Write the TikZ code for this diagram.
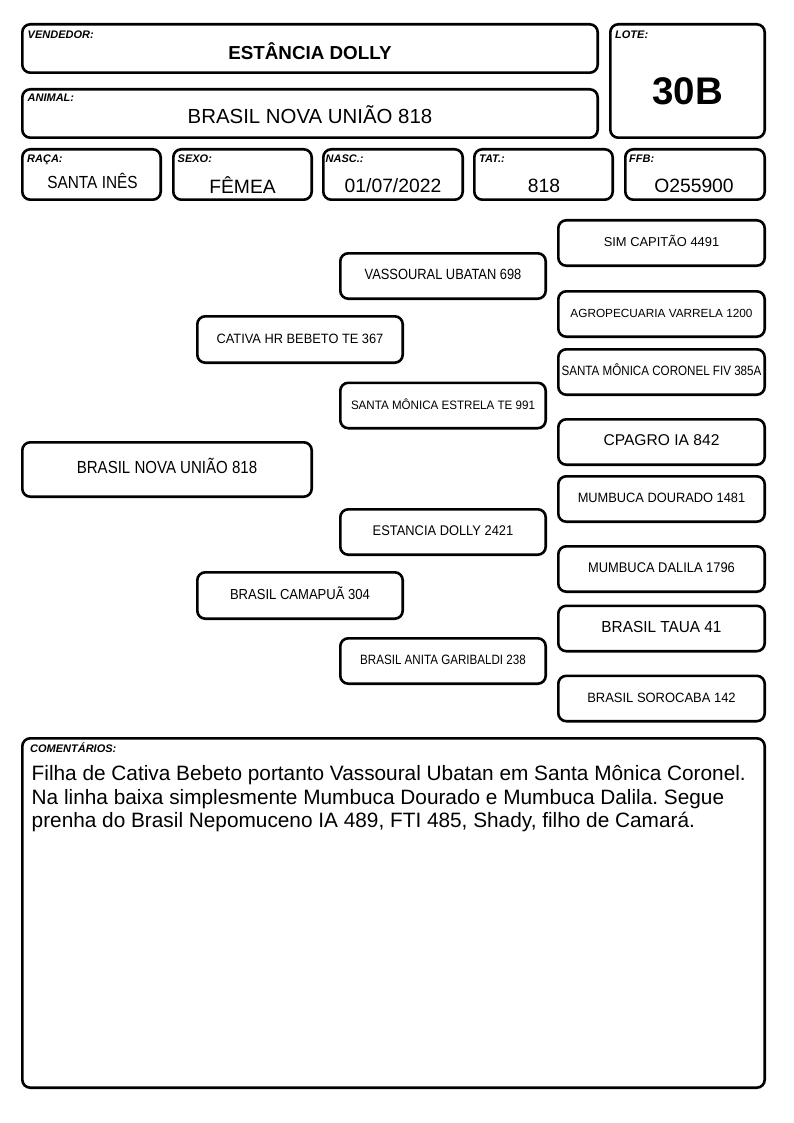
\documentclass[tikz,border=0pt]{standalone}
\usepackage{fontspec}
\setmainfont{Liberation Sans}
\frenchspacing
\newcommand{\fs}[1]{\fontsize{#1}{#1}\selectfont}
\newcommand{\squeeze}[2]{\scalebox{#1}[1]{#2}}
\tikzset{
  box/.style={draw, line width=2.6pt, rounded corners=8pt, inner sep=0pt},
  tag/.style={anchor=base west, inner sep=0pt, font=\fs{11}\bfseries\itshape},
  value/.style={anchor=base, inner sep=0pt},
  ped/.style={box, minimum width=205.4pt, minimum height=45.4pt, text height=.72em, text depth=0pt},
  far/.style={ped, minimum width=206.4pt},
}
\begin{document}
\begin{tikzpicture}[x=1pt,y=-1pt]
    \fill[white] (0,0) rectangle (794,1123);
    \useasboundingbox (0,0) rectangle (794,1123);
    % header
    \node[box, minimum width=575.4pt, minimum height=48.4pt] (vendedor) at (310,48.5) {};
    \node[box, minimum width=575.4pt, minimum height=48.4pt] (animal) at (310,113.5) {};
    \node[box, minimum width=154.4pt, minimum height=113.4pt] (lote) at (687.5,81) {};
    \node[box, minimum width=138.4pt, minimum height=50.4pt] (raca) at (91.5,174.5) {};
    \node[box, minimum width=138.4pt, minimum height=50.4pt] (sexo) at (242.5,174.5) {};
    \node[box, minimum width=139.4pt, minimum height=50.4pt] (nasc) at (393,174.5) {};
    \node[box, minimum width=138.4pt, minimum height=50.4pt] (tat) at (543.5,174.5) {};
    \node[box, minimum width=139.4pt, minimum height=50.4pt] (ffb) at (695,174.5) {};
    \node[tag] (vendedor-tag) at (27.5,39) {VENDEDOR:};
    \node[tag] (animal-tag) at (27.5,102) {ANIMAL:};
    \node[tag] (lote-tag) at (615,39) {LOTE:};
    \node[tag] (raca-tag) at (27,163) {RAÇA:};
    \node[tag] (sexo-tag) at (177.5,163) {SEXO:};
    \node[tag] (nasc-tag) at (325.5,163) {NASC.:};
    \node[tag] (tat-tag) at (479,163) {TAT.:};
    \node[tag] (ffb-tag) at (629,163) {FFB:};
    \node[value, font=\fs{18.8}\bfseries] (vendedor-val) at (310,60) {ESTÂNCIA DOLLY};
    \node[value, font=\fs{20.4}] (animal-val) at (310,123.3) {BRASIL NOVA UNIÃO 818};
    \node[value, font=\fs{38.5}\bfseries] (lote-val) at (687.5,105) {30B};
    \node[value, font=\fs{17.5}] (raca-val) at (92.5,188.3) {\squeeze{.88}{SANTA INÊS}};
    \node[value, font=\fs{19.3}] (sexo-val) at (242.5,193.3) {FÊMEA};
    \node[value, font=\fs{19.3}] (nasc-val) at (393,193) {01/07/2022};
    \node[value, font=\fs{19.3}] (tat-val) at (544,192.5) {818};
    \node[value, font=\fs{19.3}] (ffb-val) at (694,192.5) {O255900};
    % pedigree
    \node[box, minimum width=289.4pt, minimum height=54.4pt, text height=.72em, text depth=0pt,
      font=\fs{17.5}] (an) at (167,469.5) {\squeeze{.86}{BRASIL NOVA UNIÃO 818}};
    \node[ped, minimum height=46.4pt, font=\fs{13.5}] (p) at (300,339.5) {\squeeze{.95}{CATIVA HR BEBETO TE 367}};
    \node[ped, minimum height=46.4pt, font=\fs{14.5}] (m) at (300,595.5) {\squeeze{.9}{BRASIL CAMAPUÃ 304}};
    \node[ped, font=\fs{14.8}] (pp) at (443,276) {\squeeze{.87}{VASSOURAL UBATAN 698}};
    \node[ped, font=\fs{12.2}] (pm) at (443,405.5) {\squeeze{.95}{SANTA MÔNICA ESTRELA TE 991}};
    \node[ped, font=\fs{14}] (mp) at (443,532) {\squeeze{.92}{ESTANCIA DOLLY 2421}};
    \node[ped, font=\fs{13.5}] (mm) at (443,661) {\squeeze{.86}{BRASIL ANITA GARIBALDI 238}};
    \node[far, font=\fs{12.9}] (ppp) at (661.5,243) {SIM CAPITÃO 4491};
    \node[far, font=\fs{11.8}] (ppm) at (661.5,314) {AGROPECUARIA VARRELA 1200};
    \node[far, font=\fs{13.5}] (pmp) at (661.5,372) {\squeeze{.86}{SANTA MÔNICA CORONEL FIV 385A}};
    \node[far, font=\fs{15.6}] (pmm) at (661.5,442) {CPAGRO IA 842};
    \node[far, font=\fs{13.5}] (mpp) at (661.5,499) {\squeeze{.95}{MUMBUCA DOURADO 1481}};
    \node[far, font=\fs{14}] (mpm) at (661.5,569) {\squeeze{.92}{MUMBUCA DALILA 1796}};
    \node[far, font=\fs{16}] (mmp) at (661.5,628.5) {\squeeze{.96}{BRASIL TAUA 41}};
    \node[far, font=\fs{13.5}] (mmm) at (661.5,698.5) {\squeeze{.96}{BRASIL SOROCABA 142}};
    % comments
    \node[box, minimum width=742.4pt, minimum height=349.4pt] (coment) at (393.5,913) {};
    \node[tag] (coment-tag) at (30,752.7) {COMENTÁRIOS:};
    \node[anchor=base west, inner sep=0pt, align=left, font=\fontsize{20.8}{23.3}\selectfont] (coment-txt) at (31.5,827.3)
      {Filha de Cativa Bebeto portanto Vassoural Ubatan em Santa Mônica Coronel.\\
       Na linha baixa simplesmente Mumbuca Dourado e Mumbuca Dalila. Segue\\
       prenha do Brasil Nepomuceno IA 489, FTI 485, Shady, filho de Camará.};
  \end{tikzpicture}
\end{document}
